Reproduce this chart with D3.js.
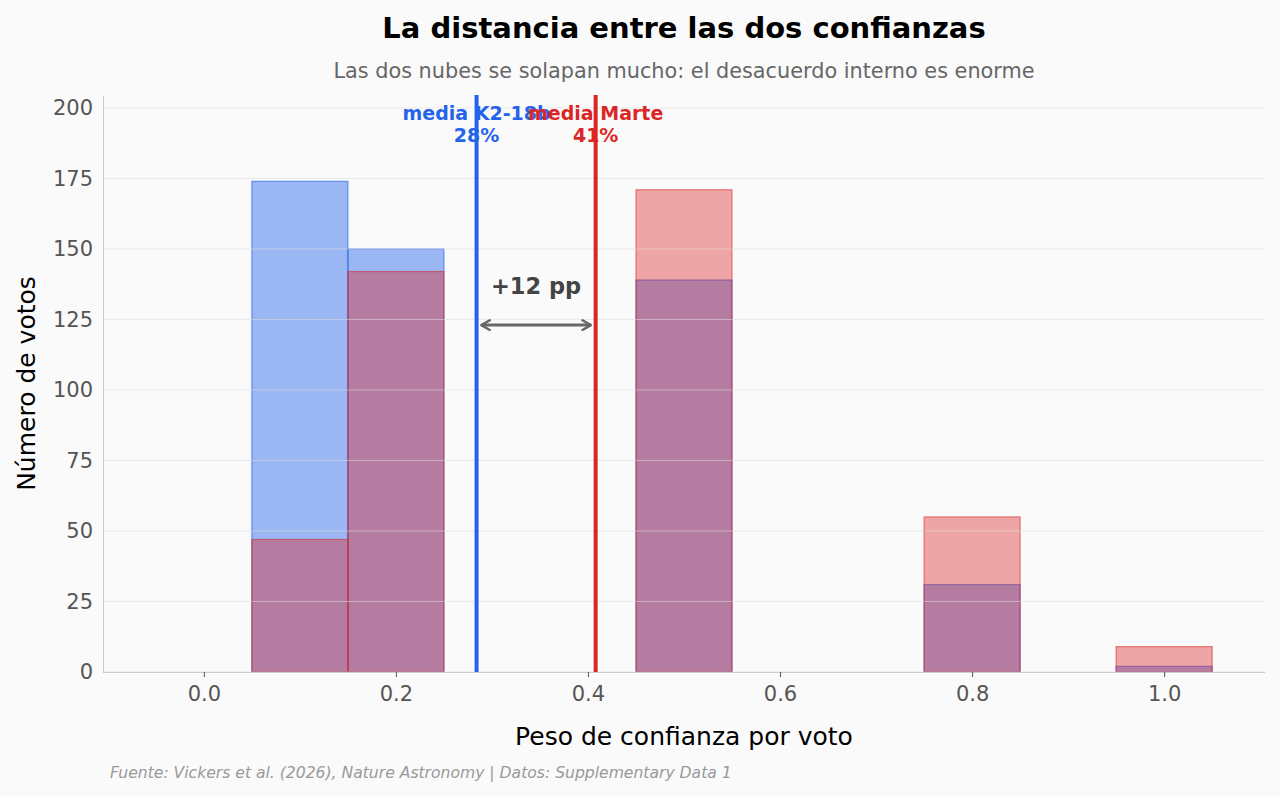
<!DOCTYPE html>
<html>
<head>
<meta charset="utf-8">
<script src="https://cdn.jsdelivr.net/npm/d3@7"></script>
<style>
  body { margin: 0; background: #fafafa; }
  svg { display: block; font-family: "DejaVu Sans", sans-serif; }
</style>
</head>
<body>
<svg class="chart" width="1280" height="796"></svg>
<script>
// histogram bins (centres, width 0.1)
const binCenters = [0.0, 0.1, 0.2, 0.3, 0.4, 0.5, 0.6, 0.7, 0.8, 0.9, 1.0];
const k2Counts = [0, 174, 150, 0, 0, 139, 0, 0, 31, 0, 2];
const marteCounts = [0, 47, 142, 0, 0, 171, 0, 0, 55, 0, 9];
const binWidth = 0.1;

const meanK2 = 0.284;
const meanMarte = 0.408;
const meanLabels = ["media K2-18b", "media Marte"];
const pctLabels = ["28%", "41%"];
const diffLabel = "+12 pp";
const arrowY = 123;
const diffTextY = 134;

const yTicks = [0, 25, 50, 75, 100, 125, 150, 175, 200];
const xTicks = [0.0, 0.2, 0.4, 0.6, 0.8, 1.0];

const margin = { top: 95, right: 15, bottom: 124, left: 103 };
const width = 1280 - margin.left - margin.right;
const height = 796 - margin.top - margin.bottom;

const blue = "#2563eb";
const red = "#dc2626";

const root = d3.select("svg.chart");
root.append("rect").attr("width", 1280).attr("height", 796).attr("fill", "#fafafa");

const svg = root.append("g")
  .attr("transform", "translate(" + margin.left + "," + margin.top + ")");

const x = d3.scaleLinear().domain([-0.105, 1.105]).range([0, width]);
const y = d3.scaleLinear().domain([0, 204.6]).range([height, 0]);

function drawBars(counts, color, alpha) {
  svg.append("g")
    .selectAll("rect")
    .data(binCenters.map((c, i) => ({ c: c, v: counts[i] })))
    .enter().append("rect")
    .attr("x", d => x(d.c - binWidth / 2))
    .attr("width", d => x(d.c + binWidth / 2) - x(d.c - binWidth / 2))
    .attr("y", d => y(d.v))
    .attr("height", d => y(0) - y(d.v))
    .attr("fill", color)
    .attr("fill-opacity", alpha)
    .attr("stroke", color)
    .attr("stroke-opacity", alpha + 0.15)
    .attr("stroke-width", 1.2);
}

drawBars(k2Counts, blue, 0.45);
drawBars(marteCounts, red, 0.4);

// horizontal grid (on top of bars, like the original)
svg.append("g")
  .selectAll("line")
  .data(yTicks)
  .enter().append("line")
  .attr("x1", 0).attr("x2", width)
  .attr("y1", d => y(d)).attr("y2", d => y(d))
  .attr("stroke", "#dcdcdc")
  .attr("stroke-opacity", 0.55)
  .attr("stroke-width", 1);

// axes
const yAxis = svg.append("g")
  .call(d3.axisLeft(y).tickValues(yTicks).tickSize(0).tickPadding(10));
yAxis.select(".domain").attr("stroke", "#cccccc");
yAxis.selectAll("text")
  .attr("font-size", 21).attr("fill", "#555").attr("font-family", "DejaVu Sans");

const xAxis = svg.append("g")
  .attr("transform", "translate(0," + height + ")")
  .call(d3.axisBottom(x).tickValues(xTicks).tickFormat(d3.format(".1f")).tickSize(5).tickPadding(9).tickSizeOuter(0));
xAxis.select(".domain").attr("stroke", "#cccccc").attr("d", "M0,0.5H" + width);
xAxis.selectAll(".tick line").attr("stroke", "#555");
xAxis.selectAll("text")
  .attr("font-size", 21).attr("fill", "#555").attr("font-family", "DejaVu Sans");

// mean lines
[[meanK2, blue], [meanMarte, red]].forEach(function(m, i) {
  svg.append("line")
    .attr("x1", x(m[0])).attr("x2", x(m[0]))
    .attr("y1", 0).attr("y2", height)
    .attr("stroke", m[1]).attr("stroke-width", 4);
  const t = svg.append("text")
    .attr("x", x(m[0])).attr("y", 25)
    .attr("text-anchor", "middle")
    .attr("font-size", 19).attr("font-weight", "bold")
    .attr("fill", m[1]);
  t.append("tspan").attr("x", x(m[0])).attr("dy", 0).text(meanLabels[i]);
  t.append("tspan").attr("x", x(m[0])).attr("dy", 22).text(pctLabels[i]);
});

// difference arrow
const defs = root.append("defs");
defs.append("marker")
  .attr("id", "head")
  .attr("viewBox", "0 0 10 10")
  .attr("refX", 8).attr("refY", 5)
  .attr("markerWidth", 4).attr("markerHeight", 4)
  .attr("orient", "auto-start-reverse")
  .append("path")
  .attr("d", "M1,1 L8,5 L1,9")
  .attr("fill", "none").attr("stroke", "#666").attr("stroke-width", 2)
  .attr("stroke-linecap", "round").attr("stroke-linejoin", "round");

svg.append("line")
  .attr("x1", x(meanK2 + 0.005)).attr("x2", x(meanMarte - 0.005))
  .attr("y1", y(arrowY)).attr("y2", y(arrowY))
  .attr("stroke", "#666").attr("stroke-width", 3)
  .attr("marker-start", "url(#head)").attr("marker-end", "url(#head)");

svg.append("text")
  .attr("x", x((meanK2 + meanMarte) / 2)).attr("y", y(diffTextY))
  .attr("text-anchor", "middle")
  .attr("font-size", 22.5).attr("font-weight", "bold").attr("fill", "#444")
  .text(diffLabel);

// titles and labels
root.append("text")
  .attr("x", margin.left + width / 2).attr("y", 38)
  .attr("text-anchor", "middle")
  .attr("font-size", 29).attr("font-weight", "bold").attr("fill", "#000")
  .text("La distancia entre las dos confianzas");

root.append("text")
  .attr("x", margin.left + width / 2).attr("y", 78)
  .attr("text-anchor", "middle")
  .attr("font-size", 20.8).attr("fill", "#666")
  .text("Las dos nubes se solapan mucho: el desacuerdo interno es enorme");

root.append("text")
  .attr("x", margin.left + width / 2).attr("y", 745)
  .attr("text-anchor", "middle")
  .attr("font-size", 25).attr("fill", "#000")
  .text("Peso de confianza por voto");

root.append("text")
  .attr("transform", "translate(35," + (margin.top + height / 2) + ") rotate(-90)")
  .attr("text-anchor", "middle")
  .attr("font-size", 25).attr("fill", "#000")
  .text("Número de votos");

root.append("text")
  .attr("x", 110).attr("y", 778)
  .attr("font-size", 15.6).attr("font-style", "italic").attr("fill", "#999")
  .text("Fuente: Vickers et al. (2026), Nature Astronomy | Datos: Supplementary Data 1");
</script>
</body>
</html>
